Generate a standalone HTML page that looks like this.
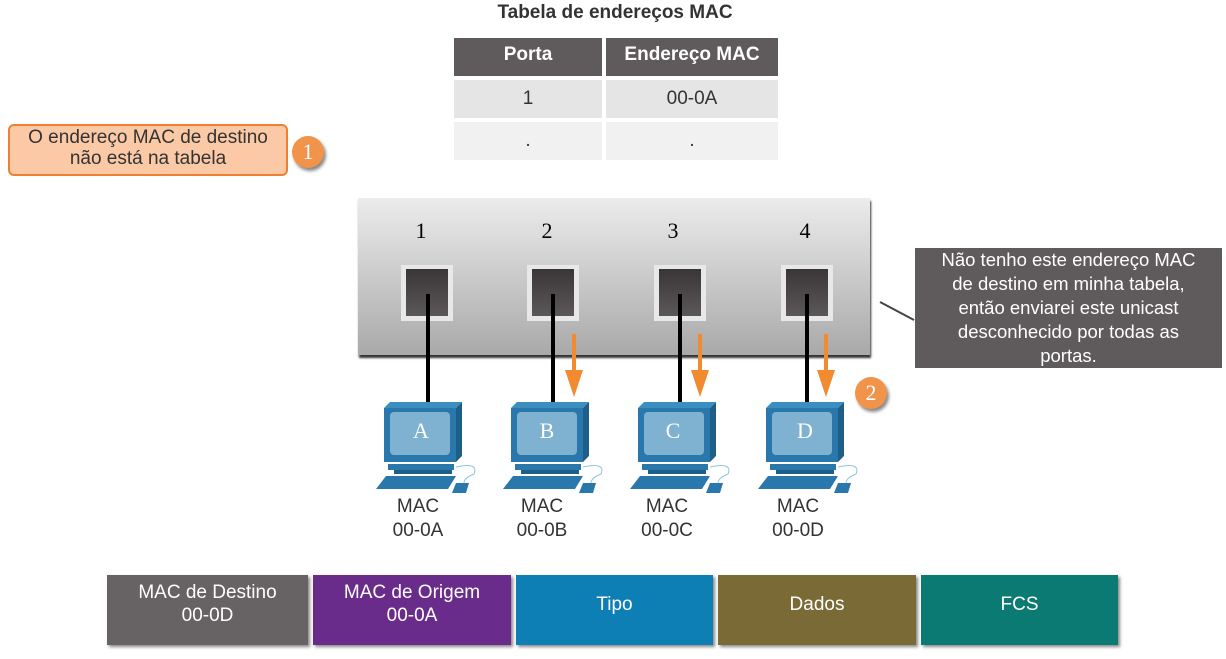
<!DOCTYPE html><html><head><style>
body{margin:0;width:1226px;height:659px;background:#fff;position:relative;overflow:hidden;font-family:"Liberation Sans",sans-serif}
.a{position:absolute}
.c{display:flex;align-items:center;justify-content:center;text-align:center}
.cell{position:absolute;font-size:19px;color:#333}
.hd{background:#5f5a5c;color:#fff;font-weight:bold}
.port{position:absolute;top:265px;width:52px;height:56px;background:#e8e8e8}
.port div{position:absolute;left:5px;top:4px;right:5px;bottom:5px;background:linear-gradient(#3a3637,#5c5859)}
.num{position:absolute;top:218px;font-family:"Liberation Serif",serif;font-size:22px;width:30px;text-align:center}
.wire{position:absolute;width:4px;background:#000;top:294px;height:110px}
.mac{position:absolute;top:495px;width:100px;text-align:center;font-size:19px;line-height:24px;color:#333}
.fr{position:absolute;top:575px;height:70px;color:#fff;font-size:19px;line-height:23px;box-shadow:2px 2px 3px #888;box-sizing:border-box;padding-bottom:12px}
</style></head><body>
<div class="a c" style="left:420px;top:0;width:390px;height:26px;font-weight:bold;font-size:19px;color:#333">Tabela de endereços MAC</div>
<div class="cell c hd" style="left:454px;top:38px;width:148px;height:38px;padding-bottom:4px;box-sizing:border-box">Porta</div>
<div class="cell c hd" style="left:606px;top:38px;width:172px;height:38px;padding-bottom:4px;box-sizing:border-box">Endereço MAC</div>
<div class="cell c" style="left:454px;top:80px;width:148px;height:38px;background:#e6e5e6">1</div>
<div class="cell c" style="left:606px;top:80px;width:172px;height:38px;background:#e6e5e6">00-0A</div>
<div class="cell c" style="left:454px;top:122px;width:148px;height:38px;background:#f1f1f1">.</div>
<div class="cell c" style="left:606px;top:122px;width:172px;height:38px;background:#f1f1f1">.</div>

<div class="a c" style="left:8px;top:124px;width:276px;height:48px;background:#fbc9a5;border:2px solid #f08030;border-radius:6px;font-size:19px;line-height:21px;color:#333;padding-bottom:4px;box-sizing:content-box;height:44px">O endereço MAC de destino<br>não está na tabela</div>
<div class="a c" style="left:292px;top:136px;width:32px;height:32px;border-radius:50%;background:#f0944c;color:#fff;font-family:'Liberation Serif',serif;font-size:22px;box-shadow:2px 3px 3px #888">1</div>

<div class="a" style="left:358px;top:198px;width:512px;height:157px;background:linear-gradient(#ececec,#a9a9a9);box-shadow:1px 3px 2px #333"></div>
<div class="num" style="left:406px">1</div><div class="num" style="left:532px">2</div><div class="num" style="left:658px">3</div><div class="num" style="left:790px">4</div>
<div class="port" style="left:401px"><div></div></div>
<div class="port" style="left:527px"><div></div></div>
<div class="port" style="left:654px"><div></div></div>
<div class="port" style="left:781px"><div></div></div>
<div class="wire" style="left:426px"></div><div class="wire" style="left:551px"></div><div class="wire" style="left:678px"></div><div class="wire" style="left:805px"></div>
<svg class="a" style="left:0;top:0" width="1226" height="659">
<g fill="#f28a30" stroke="#f28a30" stroke-width="4">
<line x1="574" y1="334" x2="574" y2="380"/><line x1="700" y1="334" x2="700" y2="380"/><line x1="826" y1="334" x2="826" y2="380"/></g>
<g fill="#f28a30"><polygon points="565,370 583,370 574,397"/><polygon points="691,370 709,370 700,397"/><polygon points="817,370 835,370 826,397"/></g>
<line x1="880" y1="302" x2="914" y2="320" stroke="#444" stroke-width="2"/>
</svg>
<div class="a c" style="left:915px;top:248px;width:307px;height:120px;background:#5f5b5c;color:#fff;font-size:18.5px;line-height:24px">Não tenho este endereço MAC<br>de destino em minha tabela,<br>então enviarei este unicast<br>desconhecido por todas as<br>portas.</div>
<div class="a c" style="left:855px;top:377px;width:32px;height:32px;border-radius:50%;background:#f0944c;color:#fff;font-family:'Liberation Serif',serif;font-size:22px;box-shadow:2px 3px 3px #888">2</div>

<svg class="a" style="left:0;top:0" width="1226" height="659">
<defs><g id="pc">
<polygon points="0,6 6,0 78,0 72,6" fill="#3a8fc0"/>
<polygon points="72,6 78,0 78,54 72,60" fill="#1d5f88"/>
<rect x="0" y="6" width="72" height="54" fill="#2a78ab"/>
<rect x="6" y="10" width="60" height="43" rx="4" fill="#7fb2d1"/>
<rect x="4" y="62" width="66" height="6" fill="#2a78ab"/>
<rect x="10" y="68" width="58" height="4" fill="#1d5f88"/>
<polygon points="-8,87 2,74 72,74 64,87" fill="#2a78ab"/>
<polygon points="72,81 85,81 82,91 68,91" fill="#2a78ab"/>
<path d="M72,65 Q95,60 90,72 Q80,76 80,81" stroke="#8fc3e0" fill="none"/>
</g></defs>
<use href="#pc" x="384" y="402"/><use href="#pc" x="511" y="402"/><use href="#pc" x="638" y="402"/><use href="#pc" x="766" y="402"/>
<g font-family="Liberation Serif" font-size="22" fill="#fff" text-anchor="middle">
<text x="421" y="438">A</text><text x="547" y="438">B</text><text x="673" y="438">C</text><text x="805" y="438">D</text></g>
</svg>
<div class="mac" style="left:368px">MAC<br>00-0A</div>
<div class="mac" style="left:492px">MAC<br>00-0B</div>
<div class="mac" style="left:617px">MAC<br>00-0C</div>
<div class="mac" style="left:748px">MAC<br>00-0D</div>

<div class="fr c" style="left:107px;width:201px;background:#676263">MAC de Destino<br>00-0D</div>
<div class="fr c" style="left:313px;width:198px;background:#6a2c8a">MAC de Origem<br>00-0A</div>
<div class="fr c" style="left:516px;width:197px;background:#0e7fb5">Tipo</div>
<div class="fr c" style="left:718px;width:198px;background:#7a6a35">Dados</div>
<div class="fr c" style="left:921px;width:197px;background:#0b7a72">FCS</div>
</body></html>
